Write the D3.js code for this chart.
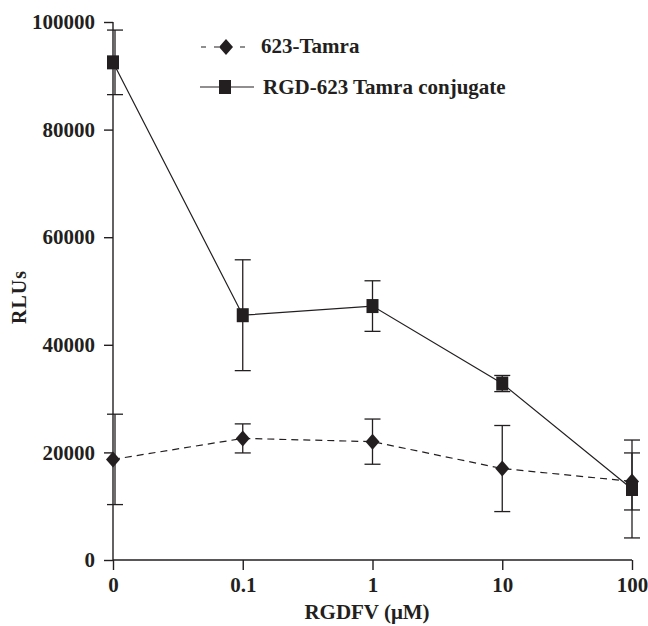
<!DOCTYPE html>
<html><head><meta charset="utf-8">
<script src="https://cdn.jsdelivr.net/npm/d3@7/dist/d3.min.js"></script>
<style>body{margin:0;background:#fff}svg{display:block}text{font-family:"Liberation Serif","Times New Roman",serif;font-weight:bold;fill:#231f20}</style>
</head><body><svg id="c" width="648" height="626"></svg>
<script>
const categories = ["0", "0.1", "1", "10", "100"];
const tamraValues = [18700, 22600, 22000, 17000, 14600];
const tamraErrors = [8400, 2700, 4200, 8000, 5300];
const conjValues = [92500, 45500, 47200, 32800, 13200];
const conjErrors = [6000, 10300, 4700, 1500, 9100];
const yTicks = [0, 20000, 40000, 60000, 80000, 100000];
const seriesNames = ["623-Tamra", "RGD-623 Tamra conjugate"];

const ink = "#231f20";
const svg = d3.select("#c");
const x = d3.scalePoint().domain(categories).range([113, 632]);
const y = d3.scaleLinear().domain([0, 100000]).range([560, 22]);

// axes
const xa = svg.append("g").attr("transform", "translate(0,560)")
  .call(d3.axisBottom(x).tickSize(10).tickPadding(7));
xa.select(".domain").attr("stroke", ink).attr("stroke-width", 1.4).attr("d", "M113,0H632");
xa.selectAll(".tick line").attr("stroke", ink).attr("stroke-width", 1.4);
xa.selectAll(".tick text").style("font-size", "21px").attr("fill", ink);

const ya = svg.append("g").attr("transform", "translate(113,0)")
  .call(d3.axisLeft(y).tickValues(yTicks).tickFormat(d3.format("d")).tickSize(9).tickPadding(9));
ya.select(".domain").attr("stroke", ink).attr("stroke-width", 1.4).attr("d", "M0,22V560");
ya.selectAll(".tick line").attr("stroke", ink).attr("stroke-width", 1.4);
ya.selectAll(".tick text").style("font-size", "21px").attr("fill", ink);

svg.append("text").attr("x", 367).attr("y", 619).attr("text-anchor", "middle")
  .style("font-size", "21px").text("RGDFV (\u03bcM)");
svg.append("text").attr("transform", "translate(26,297) rotate(-90)").attr("text-anchor", "middle")
  .style("font-size", "20px").style("letter-spacing", "1px").text("RLUs");

const line = d3.line().x((d, i) => x(categories[i])).y(d => y(d));

function errBars(vals, errs) {
  const g = svg.append("g").attr("stroke", ink).attr("stroke-width", 1.3);
  vals.forEach((v, i) => {
    const cx = x(categories[i]) + (i === 0 ? 2 : 0);
    const t = y(v + errs[i]), b = y(v - errs[i]);
    g.append("line").attr("x1", cx).attr("x2", cx).attr("y1", t).attr("y2", b);
    g.append("line").attr("x1", cx - 8).attr("x2", cx + 8).attr("y1", t).attr("y2", t);
    g.append("line").attr("x1", cx - 8).attr("x2", cx + 8).attr("y1", b).attr("y2", b);
  });
}
errBars(tamraValues, tamraErrors);
errBars(conjValues, conjErrors);

svg.append("path").datum(tamraValues).attr("d", line).attr("fill", "none")
  .attr("stroke", ink).attr("stroke-width", 1.2).attr("stroke-dasharray", "7,5");
svg.append("path").datum(conjValues).attr("d", line).attr("fill", "none")
  .attr("stroke", ink).attr("stroke-width", 1.2);

const diamond = (cx, cy) => `M${cx},${cy-8}L${cx+7},${cy}L${cx},${cy+8}L${cx-7},${cy}Z`;
svg.append("g").selectAll("path").data(tamraValues).join("path")
  .attr("d", (d, i) => diamond(x(categories[i]), y(d))).attr("fill", ink);
svg.append("g").selectAll("rect").data(conjValues).join("rect")
  .attr("x", (d, i) => x(categories[i]) - 6).attr("y", d => y(d) - 7)
  .attr("width", 12).attr("height", 14).attr("fill", ink);

// legend
const lg = svg.append("g");
lg.append("line").attr("x1", 200).attr("x2", 248).attr("y1", 47).attr("y2", 47)
  .attr("stroke", ink).attr("stroke-width", 1.2).attr("stroke-dasharray", "5,8").attr("stroke-dashoffset", -1);
lg.append("path").attr("d", diamond(226, 47)).attr("fill", ink);
lg.append("text").attr("x", 261).attr("y", 53).style("font-size", "21px").text(seriesNames[0]);
lg.append("line").attr("x1", 200).attr("x2", 254).attr("y1", 87).attr("y2", 87)
  .attr("stroke", ink).attr("stroke-width", 1.2);
lg.append("rect").attr("x", 219).attr("y", 80).attr("width", 12).attr("height", 14).attr("fill", ink);
lg.append("text").attr("x", 263).attr("y", 94).style("font-size", "21px").text(seriesNames[1]);
</script></body></html>
